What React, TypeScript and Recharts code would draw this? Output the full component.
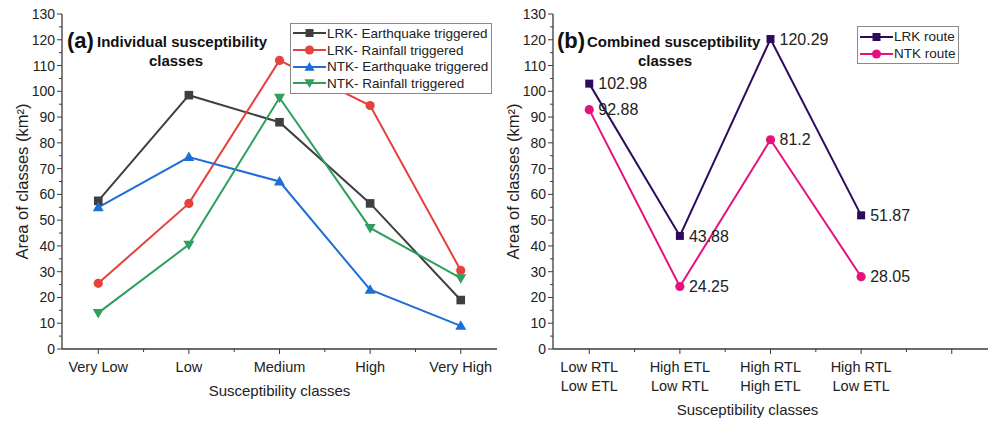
import React from 'react';
import { LineChart, Line, XAxis, YAxis, Legend, LabelList } from 'recharts';

// panel (a)
const classesA = ['Very Low', 'Low', 'Medium', 'High', 'Very High'];
const lrkEarthquake = [57.5, 98.5, 88, 56.5, 19];
const lrkRainfall = [25.5, 56.5, 112, 94.5, 30.5];
const ntkEarthquake = [55, 74.5, 65, 23, 9];
const ntkRainfall = [14, 40.5, 97.5, 47, 27.5];

// panel (b)
const classesB = [
  ['Low RTL', 'Low ETL'],
  ['High ETL', 'Low RTL'],
  ['High RTL', 'High ETL'],
  ['High RTL', 'Low ETL'],
];
const lrkRoute = [102.98, 43.88, 120.29, 51.87];
const ntkRoute = [92.88, 24.25, 81.2, 28.05];

const yTicks = [0, 5, 10, 15, 20, 25, 30, 35, 40, 45, 50, 55, 60, 65, 70, 75, 80, 85, 90, 95, 100, 105, 110, 115, 120, 125, 130];
const xTicks = [1, 1.5, 2, 2.5, 3, 3.5, 4, 4.5, 5];

const FONT = '"Liberation Sans", Arial, Helvetica, sans-serif';
const AXIS = '#3a3a3a';
const TEXT = '#222';

type Shape = 'square' | 'circle' | 'triangle' | 'triangleDown';
type Series = { key: string; name: string; color: string; shape: Shape; size: number };

const seriesA: Series[] = [
  { key: 'lrkEq', name: 'LRK- Earthquake triggered', color: '#3f3f3f', shape: 'square', size: 4.3 },
  { key: 'lrkRain', name: 'LRK- Rainfall triggered', color: '#e5413d', shape: 'circle', size: 4.6 },
  { key: 'ntkEq', name: 'NTK- Earthquake triggered', color: '#1d6fd6', shape: 'triangle', size: 5 },
  { key: 'ntkRain', name: 'NTK- Rainfall triggered', color: '#2f9f5d', shape: 'triangleDown', size: 5 },
];
const seriesB: Series[] = [
  { key: 'lrk', name: 'LRK route', color: '#2c0b5e', shape: 'square', size: 4 },
  { key: 'ntk', name: 'NTK route', color: '#e5127e', shape: 'circle', size: 4.6 },
];

const rowsA = classesA.map((c, i) => ({
  x: i + 1,
  name: c,
  lrkEq: lrkEarthquake[i],
  lrkRain: lrkRainfall[i],
  ntkEq: ntkEarthquake[i],
  ntkRain: ntkRainfall[i],
}));
const rowsB = classesB.map((c, i) => ({ x: i + 1, name: c.join(' '), lrk: lrkRoute[i], ntk: ntkRoute[i] }));

function Marker({ shape, cx, cy, color, size }: { shape: Shape; cx: number; cy: number; color: string; size: number }) {
  if (cx == null || cy == null) return null;
  const s = size;
  if (shape === 'square') return <rect x={cx - s} y={cy - s} width={2 * s} height={2 * s} fill={color} />;
  if (shape === 'circle') return <circle cx={cx} cy={cy} r={s} fill={color} />;
  if (shape === 'triangle')
    return <polygon points={`${cx},${cy - s * 1.1} ${cx + s * 1.1},${cy + s * 0.8} ${cx - s * 1.1},${cy + s * 0.8}`} fill={color} />;
  return <polygon points={`${cx},${cy + s * 1.1} ${cx + s * 1.1},${cy - s * 0.8} ${cx - s * 1.1},${cy - s * 0.8}`} fill={color} />;
}

function BottomTick(props: any) {
  const { x, y, payload, labels } = props;
  const v = payload.value;
  const major = Number.isInteger(v);
  const label = major ? labels[v - 1] : undefined;
  const lines: string[] = label == null ? [] : Array.isArray(label) ? label : [label];
  return (
    <g>
      <line x1={x} x2={x} y1={y} y2={y + (major ? 5 : 3)} stroke={AXIS} />
      {lines.length > 0 && (
        <text x={x} y={y + 23} textAnchor="middle" fontSize={14.5} fill={TEXT} fontFamily={FONT}>
          {lines.map((l, i) => (
            <tspan key={i} x={x} dy={i === 0 ? 0 : 18.5}>
              {l}
            </tspan>
          ))}
        </text>
      )}
    </g>
  );
}

function TopTick(props: any) {
  const { x, y, payload } = props;
  const major = Number.isInteger(payload.value);
  return <line x1={x} x2={x} y1={y} y2={y + (major ? 5 : 3)} stroke={AXIS} />;
}

function LeftTick(props: any) {
  const { x, y, payload } = props;
  const major = payload.value % 10 === 0;
  return (
    <g>
      <line x1={x} x2={x - (major ? 5 : 3)} y1={y} y2={y} stroke={AXIS} />
      {major && (
        <text x={x - 7} y={y + 5} textAnchor="end" fontSize={14} fill={TEXT} fontFamily={FONT}>
          {payload.value}
        </text>
      )}
    </g>
  );
}

function RightTick(props: any) {
  const { x, y, payload } = props;
  const major = payload.value % 10 === 0;
  return <line x1={x} x2={x - (major ? 5 : 3)} y1={y} y2={y} stroke={AXIS} />;
}

function LegendBox({ items, rowH, textW }: { items: Series[]; rowH: number; textW?: number }) {
  return (
    <div style={{ border: '1px solid #8a8a8a', background: '#fff', padding: '1px 2px 1px 2px', fontFamily: FONT }}>
      {items.map((s) => (
        <div key={s.key} style={{ display: 'flex', alignItems: 'center', height: rowH }}>
          <svg width={33} height={14} style={{ flex: 'none' }}>
            <line x1={0} x2={33} y1={7} y2={7} stroke={s.color} strokeWidth={2} />
            <Marker shape={s.shape} cx={16.5} cy={7} color={s.color} size={s.shape === 'square' ? 4 : 4.6} />
          </svg>
          <span style={{ fontSize: 13.5, color: TEXT, marginLeft: 1, whiteSpace: 'nowrap', width: textW }}>{s.name}</span>
        </div>
      ))}
    </div>
  );
}

function yLabel() {
  return {
    value: 'Area of classes (km²)',
    angle: -90,
    position: 'insideLeft' as const,
    offset: 22,
    style: { textAnchor: 'middle', fontSize: 16.5, fill: TEXT, fontFamily: FONT },
  };
}

function xLabel(shift: number, dy: number) {
  return {
    content: (p: any) => {
      const vb = p.viewBox;
      return (
        <text x={vb.x + vb.width / 2 + shift} y={vb.y + dy} textAnchor="middle" fontSize={15} fill={TEXT} fontFamily={FONT}>
          Susceptibility classes
        </text>
      );
    },
  };
}

function frame(labels: any[], shift: number, dy: number) {
  return [
    <XAxis
      key="xb"
      xAxisId="b"
      type="number"
      dataKey="x"
      domain={[0.6, 5.4]}
      allowDataOverflow
      ticks={xTicks}
      interval={0}
      height={74}
      tickSize={0}
      tickMargin={0}
      tickLine={false}
      axisLine={{ stroke: AXIS, strokeWidth: 1.3 }}
      tick={(p: any) => <BottomTick {...p} labels={labels} />}
      label={xLabel(shift, dy)}
    />,
    <XAxis
      key="xt"
      xAxisId="t"
      orientation="top"
      type="number"
      dataKey="x"
      domain={[0.6, 5.4]}
      allowDataOverflow
      ticks={xTicks}
      interval={0}
      height={0}
      tickSize={0}
      tickMargin={0}
      tickLine={false}
      axisLine={{ stroke: AXIS, strokeWidth: 1.3 }}
      tick={(p: any) => <TopTick {...p} />}
    />,
    <YAxis
      key="yl"
      yAxisId="l"
      domain={[0, 130]}
      ticks={yTicks}
      interval={0}
      width={62}
      tickSize={0}
      tickMargin={0}
      tickLine={false}
      axisLine={{ stroke: AXIS, strokeWidth: 1.3 }}
      tick={(p: any) => <LeftTick {...p} />}
      label={yLabel()}
    />,
    <YAxis
      key="yr"
      yAxisId="r"
      orientation="right"
      domain={[0, 130]}
      ticks={yTicks}
      interval={0}
      width={0}
      tickSize={0}
      tickMargin={0}
      tickLine={false}
      axisLine={{ stroke: AXIS, strokeWidth: 1.3 }}
      tick={(p: any) => <RightTick {...p} />}
    />,
  ];
}

function Title({ tag, x, line1, line2, cx }: { tag: string; x: number; line1: string; line2: string; cx: number }) {
  return (
    <g fontFamily={FONT} fill="#111" fontWeight="bold">
      <text x={x} y={48} fontSize={22}>
        {tag}
      </text>
      <text x={x + 30} y={47} fontSize={15}>
        {line1}
      </text>
      <text x={cx} y={66} fontSize={15} textAnchor="middle">
        {line2}
      </text>
    </g>
  );
}

export default function App() {
  return (
    <div style={{ position: 'absolute', left: 0, top: 0, width: 989, height: 423, background: '#fff' }}>
      <div style={{ position: 'absolute', left: 0, top: 0 }}>
        <LineChart width={500} height={423} data={rowsA} margin={{ top: 14, right: 3, bottom: 0, left: 0 }}>
          {frame(classesA, 0, 47)}
          {seriesA.map((s) => (
            <Line
              key={s.key}
              xAxisId="b"
              yAxisId="l"
              dataKey={s.key}
              name={s.name}
              stroke={s.color}
              strokeWidth={2}
              isAnimationActive={false}
              dot={(p: any) => <Marker key={p.index} shape={s.shape} cx={p.cx} cy={p.cy} color={s.color} size={s.size} />}
            />
          ))}
          <Legend
            layout="vertical"
            align="center"
            verticalAlign="middle"
            wrapperStyle={{ left: 290, top: 23, width: 'auto' }}
            content={() => <LegendBox items={seriesA} rowH={16.7} textW={162} />}
          />
        </LineChart>
      </div>
      <div style={{ position: 'absolute', left: 491, top: 0 }}>
        <LineChart width={498} height={423} data={rowsB} margin={{ top: 14, right: 1, bottom: 0, left: 0 }}>
          {frame(classesB, -23, 66)}
          {seriesB.map((s) => (
            <Line
              key={s.key}
              xAxisId="b"
              yAxisId="l"
              dataKey={s.key}
              name={s.name}
              stroke={s.color}
              strokeWidth={2}
              isAnimationActive={false}
              dot={(p: any) => <Marker key={p.index} shape={s.shape} cx={p.cx} cy={p.cy} color={s.color} size={s.size} />}
            >
              <LabelList dataKey={s.key} position="right" offset={9} fontSize={16} fill={TEXT} fontFamily={FONT} />
            </Line>
          ))}
          <Legend
            layout="vertical"
            align="center"
            verticalAlign="middle"
            wrapperStyle={{ left: 366, top: 26, width: 'auto' }}
            content={() => <LegendBox items={seriesB} rowH={17} />}
          />
        </LineChart>
      </div>
      <svg width={989} height={423} style={{ position: 'absolute', left: 0, top: 0, pointerEvents: 'none' }}>
        <Title tag="(a)" x={67} line1="Individual susceptibility" line2="classes" cx={176} />
        <Title tag="(b)" x={557} line1="Combined susceptibility" line2="classes" cx={665} />
      </svg>
    </div>
  );
}
